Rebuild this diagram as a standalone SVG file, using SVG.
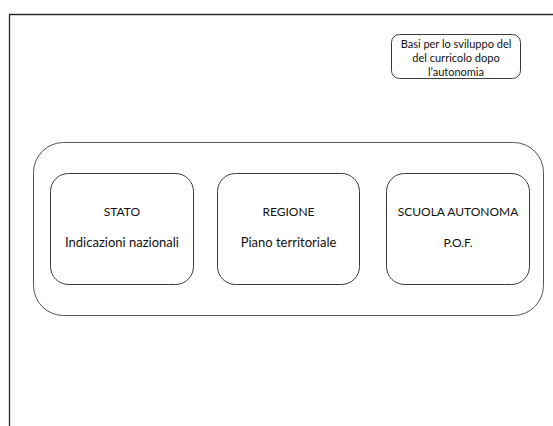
<svg xmlns="http://www.w3.org/2000/svg" width="553" height="426" viewBox="0 0 553 426">
  <style>
    .frame { fill: none; stroke: #2a2a2a; stroke-width: 1.3; }
    .box { fill: #ffffff; stroke: #3a3a3a; stroke-width: 1; }
    .outer { fill: #ffffff; stroke: #555555; stroke-width: 1; }
    text { font-family: Lato, "Open Sans", "Liberation Sans", sans-serif; font-size: 13px; fill: #111111; text-anchor: middle; }
    .caps { font-size: 12px; }
    .small { font-size: 11px; }
  </style>
  <rect width="553" height="426" fill="#ffffff"/>
  <!-- page frame: top edge and left edge -->
  <path class="frame" d="M9.5 426 V14.5 H553"/>

  <g id="title">
    <rect class="box" x="391.5" y="34.5" width="129" height="44" rx="8"/>
    <text class="small" x="456" y="48">Basi per lo sviluppo del</text>
    <text class="small" x="456" y="62">del curricolo dopo</text>
    <text class="small" x="456" y="76">l’autonomia</text>
  </g>

  <g id="container">
    <rect class="outer" x="33.5" y="142.5" width="510" height="173" rx="30"/>
  </g>

  <g id="stato">
    <rect class="box" x="50.5" y="173.5" width="143" height="111" rx="18"/>
    <text class="caps" x="122" y="216">STATO</text>
    <text x="122" y="247">Indicazioni nazionali</text>
  </g>

  <g id="regione">
    <rect class="box" x="217.5" y="173.5" width="142" height="111" rx="18"/>
    <text class="caps" x="288.5" y="216">REGIONE</text>
    <text x="288.5" y="247">Piano territoriale</text>
  </g>

  <g id="scuola">
    <rect class="box" x="386.5" y="173.5" width="143" height="111" rx="18"/>
    <text class="caps" x="458" y="216">SCUOLA AUTONOMA</text>
    <text class="caps" x="458" y="247">P.O.F.</text>
  </g>

  <g id="connectors"></g>
</svg>
